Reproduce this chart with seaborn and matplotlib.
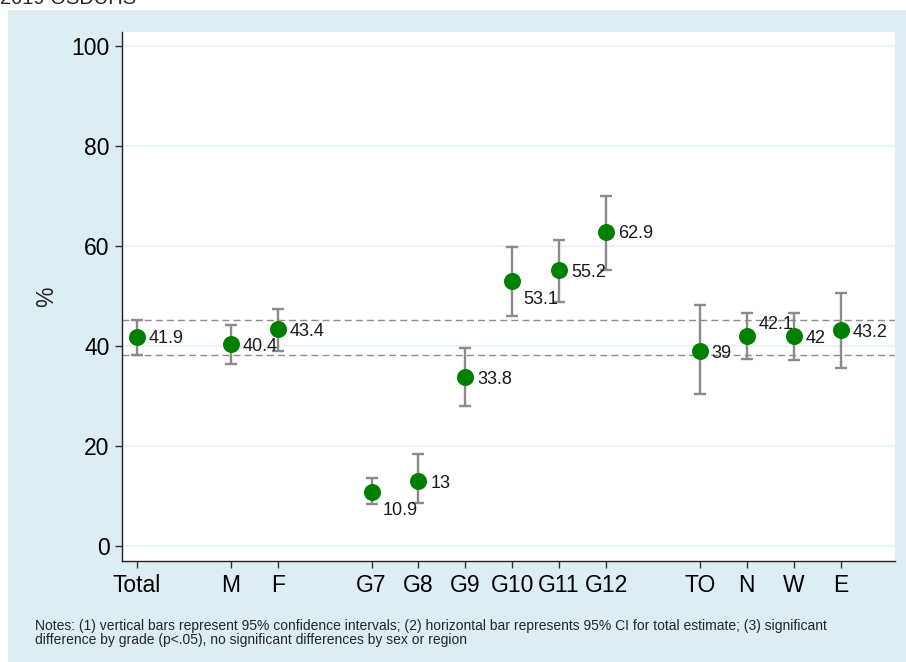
import numpy as np
import matplotlib
matplotlib.use("Agg")
import matplotlib.pyplot as plt
import seaborn as sns
from matplotlib.patches import Rectangle

# --------------------------------------------------
# Data (percent, with 95% CI)
# --------------------------------------------------
blocks = [["Total"], ["M", "F"], ["G7", "G8", "G9", "G10", "G11", "G12"], ["TO", "N", "W", "E"]]
pct  = [41.9, 40.4, 43.4, 10.9, 13.0, 33.8, 53.1, 55.2, 62.9, 39.0, 42.1, 42.0, 43.2]
ci_lo = [38.3, 36.4, 39.1, 8.4, 8.7, 28.1, 46.1, 48.8, 55.2, 30.5, 37.4, 37.2, 35.7]
ci_hi = [45.3, 44.3, 47.5, 13.7, 18.5, 39.7, 59.9, 61.3, 70.0, 48.2, 46.6, 46.7, 50.7]
y_ticks = [0, 20, 40, 60, 80, 100]
title = "2019 OSDUHS"
note = ("Notes: (1) vertical bars represent 95% confidence intervals; (2) horizontal bar represents 95% CI "
        "for total estimate; (3) significant\ndifference by grade (p<.05), no significant differences by sex or region")

# label placement (clock position) for a few crowded labels
label_clock = {"G7": 4, "G10": 4, "N": 2}

# category positions: one empty slot between blocks
labels, xpos = [], []
p = 0
for b in blocks:
    for g in b:
        labels.append(g)
        xpos.append(p)
        p += 1
    p += 1
xpos = np.array(xpos, dtype=float)
pct = np.array(pct)
ci_lo = np.array(ci_lo)
ci_hi = np.array(ci_hi)

# --------------------------------------------------
# Style
# --------------------------------------------------
sns.set_style("white")
plt.rcParams["font.family"] = ["Liberation Sans", "DejaVu Sans"]

W, H = 906, 662
fig = plt.figure(figsize=(W / 100, H / 100), dpi=100)
fig.patch.set_facecolor("white")
bg = "#dcedf4"
fig.patches.append(Rectangle((8 / W, 0), 1, 1 - 10 / H, transform=fig.transFigure,
                             facecolor=bg, edgecolor="none", zorder=-10))

ax = fig.add_axes([122 / W, (H - 561) / H, (895 - 122) / W, (561 - 32) / H])
ax.set_facecolor("white")

green = "#008000"
grey = "#8a8a8a"

# horizontal band = 95% CI of total estimate
for v in (ci_lo[0], ci_hi[0]):
    ax.axhline(v, color="#8c8c8c", lw=1.0, ls=(0, (5, 3)), zorder=1)

ax.errorbar(xpos, pct, yerr=[pct - ci_lo, ci_hi - pct], fmt="none",
            ecolor=grey, elinewidth=1.7, capsize=4.2, capthick=1.7, zorder=2)
sns.scatterplot(x=xpos, y=pct, s=150, color=green, edgecolor=green,
                linewidth=0, ax=ax, zorder=3, legend=False)

offsets = {3: (8.6, -1.5), 4: (8.0, -13.5), 2: (8.6, 8.0)}
for g, x, v in zip(labels, xpos, pct):
    dx, dy = offsets[label_clock.get(g, 3)]
    ax.annotate(f"{v:g}", (x, v), xytext=(dx, dy), textcoords="offset points",
                ha="left", va="center", fontsize=13, color="#1a1a1a", zorder=4)

ax.set_xlim(-0.32, 16.16)
ax.set_ylim(-3, 102.8)
ax.set_yticks(y_ticks)
ax.set_xticks(xpos)
ax.set_xticklabels(labels)
ax.yaxis.grid(True, color="#eaf3f6", lw=1.5)
ax.set_axisbelow(True)
ax.tick_params(axis="both", direction="out", length=5, width=1, color="#333333",
               labelsize=16.5, labelcolor="black", pad=4, left=True, bottom=True)
for side in ("top", "right"):
    ax.spines[side].set_visible(False)
for side in ("left", "bottom"):
    ax.spines[side].set_color("#222222")
    ax.spines[side].set_linewidth(1.0)

fig.text(47 / W, 1 - 297 / H, "%", rotation=90, ha="center", va="center", fontsize=16.5)
fig.text(0, 1 - 4 / H, title, ha="left", va="baseline", fontsize=14.5)
fig.text(35 / W, 1 - 633 / H, note, ha="left", va="center", fontsize=10.0, linespacing=1.0)

fig.savefig("out.png", dpi=100, facecolor="white")
